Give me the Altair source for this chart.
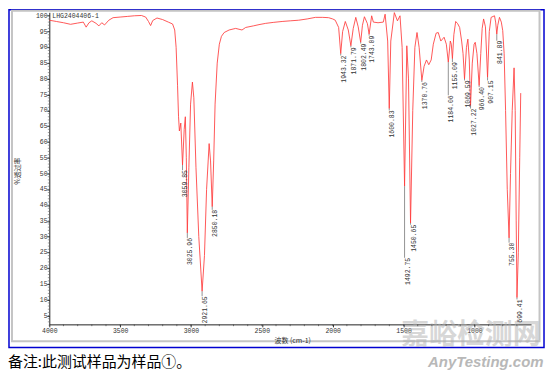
import altair as alt
import pandas as pd

# ---------------- data ----------------
spec_wn = [4000, 3950, 3900, 3850, 3800, 3760, 3740, 3720, 3700, 3670, 3650, 3630, 3610, 3580,
           3550, 3500, 3450, 3400, 3350, 3320, 3300, 3285, 3270, 3240, 3200, 3160, 3130, 3115,
           3105, 3095, 3088, 3082, 3072, 3059.85, 3048, 3040, 3033, 3025.96, 3015, 3003, 2990,
           2980, 2965, 2945, 2921.65, 2905, 2890, 2872, 2862, 2850.18, 2840, 2830, 2815, 2800,
           2785, 2766, 2731, 2685, 2640, 2614, 2560, 2520, 2473, 2420, 2357, 2300, 2240, 2180,
           2122, 2070, 2029, 2000, 1982, 1958, 1943.32, 1930, 1911, 1890, 1871.79, 1855, 1837,
           1820, 1802.49, 1790, 1776, 1755, 1743.09, 1725, 1713, 1680, 1643, 1630, 1612,
           1600.83, 1590, 1565, 1543, 1525, 1510, 1492.75, 1477, 1465, 1450.65, 1435, 1420,
           1405, 1390, 1370.76, 1355, 1338, 1322, 1305, 1290, 1270, 1255, 1237, 1214, 1198,
           1184.06, 1170, 1163, 1155.09, 1145, 1132, 1118, 1104, 1090, 1080, 1069.59, 1056,
           1046, 1036, 1027.22, 1015, 1002, 994, 982, 966.40, 955, 945, 935, 922, 907.15, 895,
           882, 858, 850, 841.89, 835, 823, 810, 800, 790, 780, 768, 755.30, 745, 733, 720,
           712, 705, 699.41, 690, 680, 673]
spec_t = [98.6, 98.2, 97.8, 97.3, 97.7, 98.0, 96.4, 97.8, 98.4, 97.6, 96.8, 97.8, 97.1, 98.6,
          99.4, 99.6, 99.8, 100.0, 100.1, 99.6, 98.2, 96.9, 98.5, 99.3, 98.8, 98.0, 97.4, 95.5,
          90.0, 78.0, 68.0, 63.5, 66.0, 52.7, 64.0, 68.0, 55.0, 31.2, 52.0, 72.0, 79.0,
          74.0, 52.0, 30.0, 12.7, 24.0, 45.0, 59.5, 54.0, 39.5, 54.0, 72.0, 85.0, 91.0,
          93.5, 94.7, 95.5, 96.0, 95.5, 96.3, 96.8, 97.2, 97.6, 97.9, 98.2, 98.4, 98.6, 99.0,
          99.5, 99.5, 99.4, 99.0, 98.6, 96.3, 88.0, 95.0, 98.2, 95.5, 90.5, 96.0, 99.5,
          96.5, 91.6, 97.0, 99.7, 97.5, 94.2, 100.0, 98.0, 97.8, 98.0, 100.5, 92.0,
          70.6, 92.0, 101.0, 98.4, 100.0, 90.0, 46.0, 90.5, 80.0, 34.3, 70.0, 90.0,
          94.7, 90.0, 79.5, 84.0, 86.0, 84.5, 86.0, 91.0, 94.5, 94.7, 92.0, 93.2, 91.0,
          85.3, 92.0, 91.0, 86.4, 94.0, 98.2, 97.5, 96.3, 92.0, 88.0, 80.0, 90.0,
          92.6, 86.0, 71.5, 85.0, 91.0, 91.6, 88.0, 77.9, 88.0, 96.0, 99.0, 96.5, 80.5, 95.0,
          99.5, 100.0, 98.0, 94.2, 97.0, 99.5, 98.0, 95.3, 88.0, 70.0, 45.0, 29.6, 50.0, 70.0, 83.5,
          70.0, 35.0, 10.7, 25.0, 55.0, 75.5]

peak_wn = [3059.85, 3025.96, 2921.65, 2850.18, 1943.32, 1871.79, 1802.49, 1743.09, 1600.83,
           1492.75, 1450.65, 1370.76, 1184.06, 1155.09, 1069.59, 1027.22, 966.40, 907.15,
           841.89, 755.30, 699.41]
peak_t = [52.7, 31.2, 12.7, 39.5, 88.0, 90.5, 91.6, 94.2, 70.6,
          46.0, 34.3, 79.5, 85.3, 86.4, 80.0, 71.5, 77.9, 80.5,
          94.2, 29.6, 10.7]
label_t = [51.1, 29.6, 11.1, 38.5, 87.4, 90.0, 91.2, 93.7, 70.0,
           23.3, 33.8, 79.0, 74.8, 85.3, 79.5, 70.6, 77.4, 79.5,
           92.1, 28.1, 10.1]
peak_txt = ["3059.85", "3025.96", "2921.65", "2850.18", "1943.32", "1871.79", "1802.49",
            "1743.09", "1600.83", "1492.75", "1450.65", "1370.76", "1184.06", "1155.09",
            "1069.59", "1027.22", "966.40", "907.15", "841.89", "755.30", "699.41"]

x_major = [4000, 3500, 3000, 2500, 2000, 1500, 1000]
x_minor = list(range(700, 4001, 100))
y_major = list(range(5, 101, 5))
y_minor = list(range(3, 101))

sample_id = "LHG2404406-1"
x_title = "波数 (cm-1)"
y_title = "%透过率"
note = "备注:此测试样品为样品①。"
wm_cn = "嘉峪检测网"
wm_en = "AnyTesting.com"

# ---------------- chart ----------------
spec = pd.DataFrame({"wn": spec_wn, "t": spec_t, "idx": range(len(spec_wn))})
peaks = pd.DataFrame({"wn": peak_wn, "pt": peak_t, "lt": label_t, "txt": peak_txt})
xmin_df = pd.DataFrame({"wn": x_minor})
ymin_df = pd.DataFrame({"t": y_minor})
ylab_df = pd.DataFrame({"t": y_major, "lab": [str(v) for v in y_major]})
one = pd.DataFrame({"k": [0]})

W, H = 484, 313.5
xs = alt.Scale(domain=[600, 4000], reverse=True, nice=False, zero=False)
ys = alt.Scale(domain=[2.2, 101.1], nice=False, zero=False)
mono = "Liberation Mono"

xaxis = alt.Axis(values=x_major, title=None, format="d", labelFont=mono, labelFontSize=6.5,
                 labelColor="#333", tickSize=2.5, tickColor="#333", domainColor="#222",
                 labelPadding=0.5, labelFlush=False, labelOverlap=False, grid=False)
# y axis: domain line and major ticks from the axis, labels drawn as a text layer below
yaxis = alt.Axis(values=y_major, title=None, labels=False, tickSize=2.5, tickColor="#333",
                 domainColor="#222", grid=False)

def X(f):
    return alt.X(f, scale=xs, axis=xaxis)

def Y(f):
    return alt.Y(f, scale=ys, axis=yaxis)

line = alt.Chart(spec).mark_line(color="#ff3a3a", strokeWidth=0.85).encode(
    x=X("wn:Q"), y=Y("t:Q"), order="idx:Q")

xminor = alt.Chart(xmin_df).mark_rule(color="#444", strokeWidth=0.7).encode(
    x=X("wn:Q"), y=alt.value(H), y2=alt.value(H + 1.8))
yminor = alt.Chart(ymin_df).mark_rule(color="#666", strokeWidth=0.6).encode(
    y=Y("t:Q"), x=alt.value(-1.5), x2=alt.value(0))
ylabels = alt.Chart(ylab_df).mark_text(align="right", baseline="middle", font=mono,
                                       fontSize=6.5, color="#333").encode(
    y=Y("t:Q"), x=alt.value(-1.8), text="lab:N")

leaders = alt.Chart(peaks).mark_rule(color="#777", strokeWidth=0.8).encode(
    x=X("wn:Q"), y=Y("pt:Q"), y2="lt:Q")
labels = alt.Chart(peaks).mark_text(angle=270, align="right", baseline="top", font=mono,
                                    fontSize=6.5, color="#333").encode(
    x=X("wn:Q"), y=Y("lt:Q"), text="txt:N")

def txt(s, x, y, **kw):
    return alt.Chart(one).mark_text(text=s, **kw).encode(x=alt.value(x), y=alt.value(y))

blue = alt.Chart(one).mark_rect(filled=False, stroke="#0000d0", strokeWidth=1.5).encode(
    x=alt.value(-40.5), x2=alt.value(497), y=alt.value(-2.5), y2=alt.value(336.8))
grey = alt.Chart(one).mark_rect(filled=False, stroke="#c4c4c4", strokeWidth=2).encode(
    x=alt.value(-37.5), x2=alt.value(492.5), y=alt.value(-1.5), y2=alt.value(330.5))

t_id = txt(sample_id, 3, 0.5, align="left", baseline="top", font=mono, fontSize=6.5, color="#333")
t_x = txt(x_title, 244.5, 330.5, align="center", baseline="middle", font="Noto Sans CJK SC",
          fontSize=7, color="#333")
t_y = txt(y_title, -31.5, 159.5, align="center", baseline="middle", angle=270,
          font="Noto Sans CJK SC", fontSize=7, color="#333")
t_note = txt(note, -41.5, 356, align="left", baseline="alphabetic", font="Noto Sans CJK SC",
             fontSize=15, color="#000")
t_wm = txt(wm_cn, 423.5, 333, align="center", baseline="alphabetic", font="Noto Sans CJK SC",
           fontSize=28, fontWeight="bold", color="#b0b0b0", opacity=0.5)
t_wm2 = txt(wm_en, 438.5, 356, align="center", baseline="alphabetic", font="Liberation Sans",
            fontSize=15, fontWeight="bold", fontStyle="italic", color="#b8b8b8")

chart = alt.layer(line, blue, grey, t_wm, xminor, yminor, ylabels, leaders, labels, t_id, t_x,
                  t_y, t_note, t_wm2).properties(
    width=W, height=H,
    padding={"left": 41.5, "top": 3.5, "right": 15, "bottom": 46},
    autosize=alt.AutoSizeParams(type="none"),
    background="white",
).configure_view(stroke=None)

chart.save("out.html", embed_options={"renderer": "svg", "actions": False})
